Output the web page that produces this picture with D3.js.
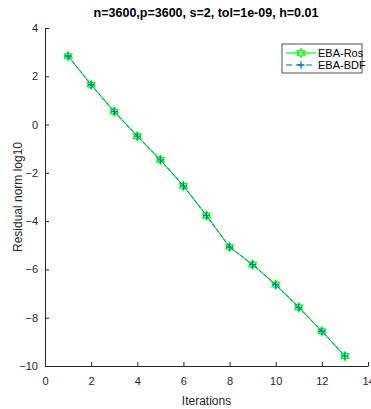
<!DOCTYPE html>
<html>
<head>
<meta charset="utf-8">
<script src="https://cdn.jsdelivr.net/npm/d3@7"></script>
<style>
  body { margin: 0; background: #fff; }
  text { font-family: "Liberation Sans Narrow", "Liberation Sans", Arial, sans-serif; }
</style>
</head>
<body>
<div id="chart"></div>
<script>
// data
const iterations = [1, 2, 3, 4, 5, 6, 7, 8, 9, 10, 11, 12, 13];
const ebaRos = [2.84, 1.65, 0.54, -0.48, -1.46, -2.54, -3.77, -5.07, -5.80, -6.63, -7.57, -8.56, -9.59];
const ebaBdf = [2.84, 1.65, 0.54, -0.48, -1.46, -2.54, -3.77, -5.07, -5.80, -6.63, -7.57, -8.56, -9.59];
const xTicks = [0, 2, 4, 6, 8, 10, 12, 14];
const yTicks = [-10, -8, -6, -4, -2, 0, 2, 4];

const W = 371, H = 409;
const margin = { top: 28, right: 3, bottom: 43, left: 45 };
const width = W - margin.left - margin.right,
    height = H - margin.top - margin.bottom;
const axisColor = "#262626";

const svg = d3.select("#chart").append("svg")
    .attr("width", W).attr("height", H);
const g = svg.append("g")
    .attr("transform", `translate(${margin.left},${margin.top})`);

const x = d3.scaleLinear().domain([0, 14]).range([0, width]);
const y = d3.scaleLinear().domain([-10, 4]).range([height, 0]);

// x axis, ticks pointing inward
const xAxis = g.append("g")
    .attr("transform", `translate(0,${height})`)
    .call(d3.axisBottom(x).tickValues(xTicks).tickSizeInner(-4).tickSizeOuter(0).tickPadding(11));
xAxis.select(".domain").attr("stroke", axisColor);
xAxis.selectAll(".tick line").attr("stroke", axisColor);
xAxis.selectAll("text").attr("fill", axisColor).style("font-size", "11px");

const yAxis = g.append("g")
    .call(d3.axisLeft(y).tickValues(yTicks).tickSizeInner(-4).tickSizeOuter(0).tickPadding(7));
yAxis.select(".domain").attr("stroke", axisColor);
yAxis.selectAll(".tick line").attr("stroke", axisColor);
yAxis.selectAll("text").attr("fill", axisColor).style("font-size", "11px");

const rosData = iterations.map((d, i) => [d, ebaRos[i]]);
const bdfData = iterations.map((d, i) => [d, ebaBdf[i]]);

const line = d3.line().x(d => x(d[0])).y(d => y(d[1]));

// EBA-Ros: green solid with hexagram
g.append("path").datum(rosData)
    .attr("fill", "none").attr("stroke", "#00ff00").attr("stroke-width", 1.1)
    .attr("d", line);

function hexagram(r) {
  const pts = [];
  for (let k = 0; k < 12; k++) {
    const a = -Math.PI / 2 + k * Math.PI / 6;
    const rr = k % 2 === 0 ? r : r * 0.58;
    pts.push([rr * Math.cos(a), rr * Math.sin(a)]);
  }
  return "M" + pts.map(p => p.join(",")).join("L") + "Z";
}

g.selectAll(".ros-mark").data(rosData).join("path")
    .attr("class", "ros-mark")
    .attr("transform", d => `translate(${x(d[0])},${y(d[1])})`)
    .attr("d", hexagram(4.3))
    .attr("fill", "none").attr("stroke", "#00ff00").attr("stroke-width", 1.3);

// EBA-BDF: blue dashed with plus
g.append("path").datum(bdfData)
    .attr("fill", "none").attr("stroke", "#0072bd").attr("stroke-width", 1)
    .attr("stroke-dasharray", "4,2")
    .attr("d", line);

g.selectAll(".bdf-mark").data(bdfData).join("path")
    .attr("class", "bdf-mark")
    .attr("transform", d => `translate(${x(d[0])},${y(d[1])})`)
    .attr("d", "M-3.5,0H3.5M0,-3.5V3.5")
    .attr("stroke", "#0072bd").attr("stroke-width", 1.3);

// title
svg.append("text")
    .attr("x", 206).attr("y", 17)
    .attr("text-anchor", "middle")
    .style("font-size", "12.5px").style("font-weight", "bold")
    .attr("fill", "#000")
    .text("n=3600,p=3600, s=2, tol=1e-09, h=0.01");

// axis labels
svg.append("text")
    .attr("x", margin.left + width / 2).attr("y", 405)
    .attr("text-anchor", "middle")
    .style("font-size", "12px").attr("fill", axisColor)
    .text("Iterations");

svg.append("text")
    .attr("transform", `translate(22,${margin.top + height / 2}) rotate(-90)`)
    .attr("text-anchor", "middle")
    .style("font-size", "12px").attr("fill", axisColor)
    .text("Residual norm log10");

// legend
const leg = svg.append("g").attr("transform", "translate(282,44)");
leg.append("rect").attr("width", 80).attr("height", 29)
    .attr("fill", "#fff").attr("stroke", axisColor).attr("stroke-width", 0.8);

leg.append("line").attr("x1", 4).attr("x2", 34).attr("y1", 9).attr("y2", 9)
    .attr("stroke", "#00ff00").attr("stroke-width", 1.2);
leg.append("path").attr("transform", "translate(19,9)").attr("d", hexagram(4.3))
    .attr("fill", "none").attr("stroke", "#00ff00").attr("stroke-width", 1.3);
leg.append("text").attr("x", 36).attr("y", 13)
    .style("font-size", "11px").attr("fill", "#000").text("EBA-Ros");

leg.append("line").attr("x1", 4).attr("x2", 34).attr("y1", 21).attr("y2", 21)
    .attr("stroke", "#0072bd").attr("stroke-width", 1.1).attr("stroke-dasharray", "6,4");
leg.append("path").attr("transform", "translate(19,21)").attr("d", "M-3.5,0H3.5M0,-3.5V3.5")
    .attr("stroke", "#0072bd").attr("stroke-width", 1.3);
leg.append("text").attr("x", 36).attr("y", 25)
    .style("font-size", "11px").attr("fill", "#000").text("EBA-BDF");
</script>
</body>
</html>
